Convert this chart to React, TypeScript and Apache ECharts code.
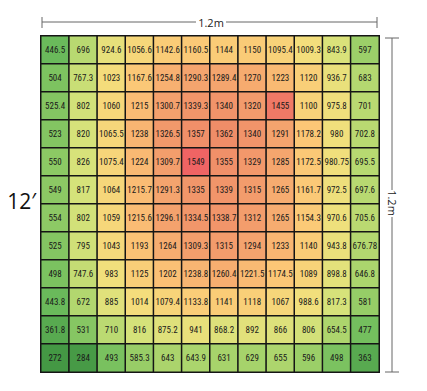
import React, { useEffect, useRef } from "react";
import * as echarts from "echarts";

const columns = ["c1", "c2", "c3", "c4", "c5", "c6", "c7", "c8", "c9", "c10", "c11", "c12"];
const rowsLabels = ["r1", "r2", "r3", "r4", "r5", "r6", "r7", "r8", "r9", "r10", "r11", "r12"];

const row1 = [446.5, 696, 924.6, 1056.6, 1142.6, 1160.5, 1144, 1150, 1095.4, 1009.3, 843.9, 597];
const row2 = [504, 767.3, 1023, 1167.6, 1254.8, 1290.3, 1289.4, 1270, 1223, 1120, 936.7, 683];
const row3 = [525.4, 802, 1060, 1215, 1300.7, 1339.3, 1340, 1320, 1455, 1100, 975.8, 701];
const row4 = [523, 820, 1065.5, 1238, 1326.5, 1357, 1362, 1340, 1291, 1178.2, 980, 702.8];
const row5 = [550, 826, 1075.4, 1224, 1309.7, 1549, 1355, 1329, 1285, 1172.5, 980.75, 695.5];
const row6 = [549, 817, 1064, 1215.7, 1291.3, 1335, 1339, 1315, 1265, 1161.7, 972.5, 697.6];
const row7 = [554, 802, 1059, 1215.6, 1296.1, 1334.5, 1338.7, 1312, 1265, 1154.3, 970.6, 705.6];
const row8 = [525, 795, 1043, 1193, 1264, 1309.3, 1315, 1294, 1233, 1140, 943.8, 676.78];
const row9 = [498, 747.6, 983, 1125, 1202, 1238.8, 1260.4, 1221.5, 1174.5, 1089, 898.8, 646.8];
const row10 = [443.8, 672, 885, 1014, 1079.4, 1133.8, 1141, 1118, 1067, 988.6, 817.3, 581];
const row11 = [361.8, 531, 710, 816, 875.2, 941, 868.2, 892, 866, 806, 654.5, 477];
const row12 = [272, 284, 493, 585.3, 643, 643.9, 631, 629, 655, 596, 498, 363];

const rows = [row1, row2, row3, row4, row5, row6, row7, row8, row9, row10, row11, row12];

const widthLabel = "1.2m";
const heightLabel = "1.2m";
const sideLabel = "12\u2032";

export default function App() {
  const ref = useRef<HTMLDivElement>(null);
  useEffect(() => {
    if (!ref.current) return;
    const chart = echarts.init(ref.current, undefined, { renderer: "svg" });
    const data: any[] = [];
    rows.forEach((r, yi) => r.forEach((v, xi) => data.push([xi, yi, v])));
    const lineStyle = { stroke: "#666", lineWidth: 1 };
    chart.setOption({
      animation: false,
      backgroundColor: "#fff",
      grid: { left: 41, top: 36, width: 338, height: 336 },
      xAxis: { type: "category", data: columns, show: false },
      yAxis: { type: "category", data: rowsLabels, inverse: true, show: false },
      visualMap: {
        show: false,
        min: 272,
        max: 1549,
        dimension: 2,
        inRange: {
          color: ["#449844", "#6cbc5c", "#a9d46c", "#d6e27a", "#f3df7c", "#fcc676", "#ef8c68", "#ef6464"],
        },
      },
      series: [
        {
          type: "heatmap",
          data,
          itemStyle: { borderColor: "#151515", borderWidth: 1.5 },
          label: {
            show: true,
            formatter: (p: any) => String(p.value[2]),
            fontSize: 9,
            fontFamily: "Liberation Sans Narrow, Roboto Condensed, Lato, sans-serif",
            color: "#1a1a1a",
          },
        },
      ],
      graphic: [
        { type: "line", shape: { x1: 42, y1: 22, x2: 196, y2: 22 }, style: lineStyle },
        { type: "line", shape: { x1: 226, y1: 22, x2: 377, y2: 22 }, style: lineStyle },
        { type: "line", shape: { x1: 42, y1: 17, x2: 42, y2: 28 }, style: lineStyle },
        { type: "line", shape: { x1: 377, y1: 17, x2: 377, y2: 28 }, style: lineStyle },
        {
          type: "text",
          x: 211,
          y: 22,
          style: { text: widthLabel, fontSize: 11, fill: "#222", align: "center", verticalAlign: "middle", fontFamily: "Open Sans, sans-serif" },
        },
        { type: "line", shape: { x1: 392, y1: 38, x2: 392, y2: 190 }, style: lineStyle },
        { type: "line", shape: { x1: 392, y1: 217, x2: 392, y2: 372 }, style: lineStyle },
        { type: "line", shape: { x1: 385, y1: 38, x2: 399, y2: 38 }, style: lineStyle },
        { type: "line", shape: { x1: 385, y1: 372, x2: 399, y2: 372 }, style: lineStyle },
        {
          type: "text",
          x: 392,
          y: 203,
          rotation: -Math.PI / 2,
          style: { text: heightLabel, fontSize: 11, fill: "#222", align: "center", verticalAlign: "middle", fontFamily: "Open Sans, sans-serif" },
        },
        {
          type: "text",
          x: 36,
          y: 201,
          style: { text: sideLabel, fontSize: 21, fill: "#111", align: "right", verticalAlign: "middle", fontFamily: "Open Sans, sans-serif" },
        },
      ],
    });
    return () => chart.dispose();
  }, []);
  return <div ref={ref} style={{ position: "fixed", left: 0, top: 0, width: 427, height: 391 }} />;
}
